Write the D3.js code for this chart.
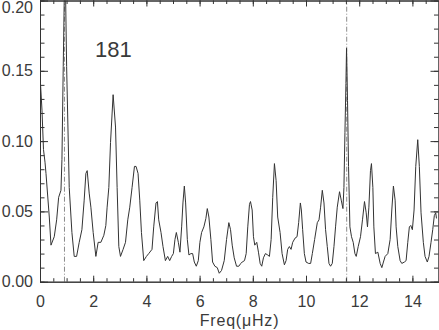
<!DOCTYPE html>
<html>
<head>
<meta charset="utf-8">
<script src="https://cdnjs.cloudflare.com/ajax/libs/d3/7.8.5/d3.min.js"></script>
<style>
    body { margin: 0; background: #fff; }
    svg text { font-family: "Liberation Sans", Arial, sans-serif; fill: #3a3a3a; }
    .axis path, .axis line { stroke: #333; }
</style>
</head>
<body>
<div id="chart"></div>
<script>
// frequency (microHz) and power
var freq = [0,0.075,0.131,0.188,0.225,0.349,0.413,0.536,0.626,0.701,
    0.788,0.825,0.874,0.938,1.001,1.099,1.2,1.286,1.376,1.474,
    1.575,1.661,1.725,1.774,1.849,1.913,1.999,2.1,2.186,2.288,
    2.4,2.475,2.524,2.588,2.651,2.749,2.839,2.899,2.963,3.026,
    3.124,3.214,3.3,3.375,3.461,3.551,3.611,3.686,3.75,3.814,
    3.9,4.001,4.088,4.211,4.275,4.361,4.414,4.463,4.549,4.624,
    4.714,4.8,4.875,4.95,5.014,5.074,5.126,5.201,5.261,5.325,
    5.374,5.426,5.475,5.539,5.599,5.674,5.738,5.801,5.876,5.951,
    6.011,6.075,6.161,6.236,6.289,6.349,6.424,6.488,6.574,6.664,
    6.739,6.825,6.926,7.013,7.099,7.163,7.226,7.301,7.388,7.474,
    7.549,7.601,7.688,7.751,7.811,7.875,7.913,7.976,8.025,8.074,
    8.149,8.213,8.276,8.336,8.4,8.475,8.561,8.625,8.689,8.749,
    8.813,8.876,8.936,9.026,9.101,9.188,9.251,9.311,9.375,9.439,
    9.499,9.589,9.664,9.724,9.788,9.825,9.874,9.938,10.001,10.099,
    10.174,10.238,10.324,10.425,10.489,10.549,10.613,10.676,10.736,10.8,
    10.864,10.924,10.988,11.051,11.111,11.175,11.261,11.325,11.389,11.426,
    11.464,11.501,11.524,11.561,11.599,11.651,11.711,11.775,11.839,11.888,
    11.963,12.049,12.124,12.199,12.263,12.311,12.364,12.424,12.461,12.514,
    12.551,12.611,12.701,12.788,12.851,12.911,12.975,13.076,13.163,13.226,
    13.286,13.35,13.388,13.451,13.538,13.601,13.699,13.763,13.826,13.886,
    13.939,13.999,14.063,14.126,14.201,14.261,14.325,14.411,14.475,14.561,
    14.625,14.7,14.764,14.824,14.876,14.906];

var power = [0.147,0.122,0.094,0.085,0.077,0.046,0.026,0.032,0.044,0.060,
    0.065,0.087,0.153,0.235,0.153,0.067,0.035,0.018,0.018,0.028,
    0.037,0.058,0.077,0.079,0.063,0.053,0.035,0.018,0.028,0.028,
    0.033,0.040,0.053,0.067,0.099,0.133,0.110,0.067,0.025,0.018,
    0.023,0.028,0.044,0.053,0.067,0.082,0.082,0.077,0.058,0.035,
    0.015,0.018,0.020,0.023,0.039,0.056,0.057,0.044,0.035,0.025,
    0.015,0.018,0.015,0.018,0.020,0.030,0.035,0.028,0.021,0.039,
    0.056,0.068,0.056,0.030,0.019,0.020,0.020,0.014,0.011,0.015,
    0.028,0.035,0.039,0.045,0.052,0.046,0.030,0.014,0.011,0.010,
    0.006,0.008,0.015,0.030,0.042,0.037,0.026,0.017,0.011,0.011,
    0.013,0.014,0.015,0.020,0.039,0.055,0.057,0.051,0.032,0.026,
    0.028,0.021,0.013,0.011,0.017,0.020,0.019,0.018,0.030,0.060,
    0.084,0.072,0.046,0.035,0.020,0.012,0.015,0.023,0.025,0.023,
    0.028,0.031,0.032,0.042,0.056,0.051,0.037,0.020,0.014,0.013,
    0.013,0.020,0.030,0.042,0.044,0.053,0.065,0.056,0.037,0.025,
    0.013,0.011,0.013,0.025,0.039,0.053,0.064,0.058,0.052,0.067,
    0.106,0.141,0.166,0.129,0.082,0.039,0.032,0.028,0.020,0.018,
    0.025,0.032,0.044,0.057,0.049,0.039,0.053,0.079,0.084,0.067,
    0.039,0.020,0.021,0.013,0.010,0.014,0.018,0.020,0.030,0.051,
    0.068,0.058,0.039,0.025,0.015,0.013,0.014,0.015,0.028,0.039,
    0.040,0.037,0.051,0.082,0.101,0.082,0.049,0.028,0.018,0.014,
    0.018,0.028,0.037,0.047,0.049,0.045];

var markFreq = [0.92, 11.53];          // dash-dot marker lines
var xTicks = [0, 2, 4, 6, 8, 10, 12, 14];
var yTicks = [0, 0.05, 0.10, 0.15, 0.20];
var panelLabel = "181";
var xTitle = "Freq(\u03BCHz)";

var width = 439, height = 330;
var x = d3.scaleLinear().domain([0, 15]).range([40, 439]);
var y = d3.scaleLinear().domain([0, 0.2]).range([281.7, 0.5]);

var svg = d3.select("#chart").append("svg")
    .attr("width", width)
    .attr("height", height);

svg.append("clipPath").attr("id", "plotclip")
    .append("rect")
    .attr("x", x(0)).attr("y", y(0.2))
    .attr("width", x(15) - x(0)).attr("height", y(0) - y(0.2));

// marker lines
svg.selectAll(".mark")
    .data(markFreq)
    .enter().append("line")
    .attr("class", "mark")
    .attr("x1", function(d) { return x(d); })
    .attr("x2", function(d) { return x(d); })
    .attr("y1", y(0))
    .attr("y2", y(0.2))
    .attr("stroke", "#8a8a8a")
    .attr("stroke-width", 1)
    .attr("stroke-dasharray", "5,2,1,2");

var pts = freq.map(function(f, i) { return [f, power[i]]; });

var line = d3.line()
    .x(function(d) { return x(d[0]); })
    .y(function(d) { return y(d[1]); });

svg.append("path")
    .datum(pts)
    .attr("clip-path", "url(#plotclip)")
    .attr("d", line)
    .attr("fill", "none")
    .attr("stroke", "#333")
    .attr("stroke-width", 1);

// minor ticks
var xMinor = d3.range(0, 15.01, 0.5);
var yMinor = d3.range(0, 0.2001, 0.01);

function addAxis(axis, tx, ty, cls) {
    var g = svg.append("g")
        .attr("class", "axis " + cls)
        .attr("transform", "translate(" + tx + "," + ty + ")")
        .call(axis);
    g.select(".domain").attr("stroke", "#333");
    return g;
}

addAxis(d3.axisBottom(x).tickValues(xMinor).tickSize(-3.5).tickSizeOuter(0).tickFormat(""), 0, y(0), "minor");
addAxis(d3.axisTop(x).tickValues(xMinor).tickSize(-3.5).tickSizeOuter(0).tickFormat(""), 0, y(0.2), "minor");
addAxis(d3.axisLeft(y).tickValues(yMinor).tickSize(-4.5).tickSizeOuter(0).tickFormat(""), x(0), 0, "minor");
addAxis(d3.axisRight(y).tickValues(yMinor).tickSize(-4.5).tickSizeOuter(0).tickFormat(""), 438.5, 0, "minor");

var xAxis = addAxis(d3.axisBottom(x).tickValues(xTicks).tickSize(-6).tickSizeOuter(0).tickPadding(14).tickFormat(d3.format("d")), 0, y(0), "major");
addAxis(d3.axisTop(x).tickValues(xTicks).tickSize(-6).tickSizeOuter(0).tickFormat(""), 0, y(0.2), "major");
var yAxis = addAxis(d3.axisLeft(y).tickValues(yTicks).tickSize(-8).tickSizeOuter(0).tickPadding(7).tickFormat(d3.format(".2f")), x(0), 0, "major");
addAxis(d3.axisRight(y).tickValues(yTicks).tickSize(-8).tickSizeOuter(0).tickFormat(""), 438.5, 0, "major");

svg.selectAll(".axis text")
    .style("font-size", "16px")
    .style("font-family", "'Liberation Sans', Arial, sans-serif")
    .attr("fill", "#3a3a3a");

// keep the top label inside the picture
yAxis.selectAll(".tick text")
    .filter(function(d) { return d >= 0.2; })
    .attr("dy", "0.72em");

svg.append("text")
    .attr("x", (x(0) + x(15)) / 2)
    .attr("y", 326)
    .attr("text-anchor", "middle")
    .style("font-size", "16px")
    .style("letter-spacing", "0.8px")
    .text(xTitle);

svg.append("text")
    .attr("x", 95)
    .attr("y", 56.5)
    .style("font-size", "22px")
    .text(panelLabel);
</script>
</body>
</html>
